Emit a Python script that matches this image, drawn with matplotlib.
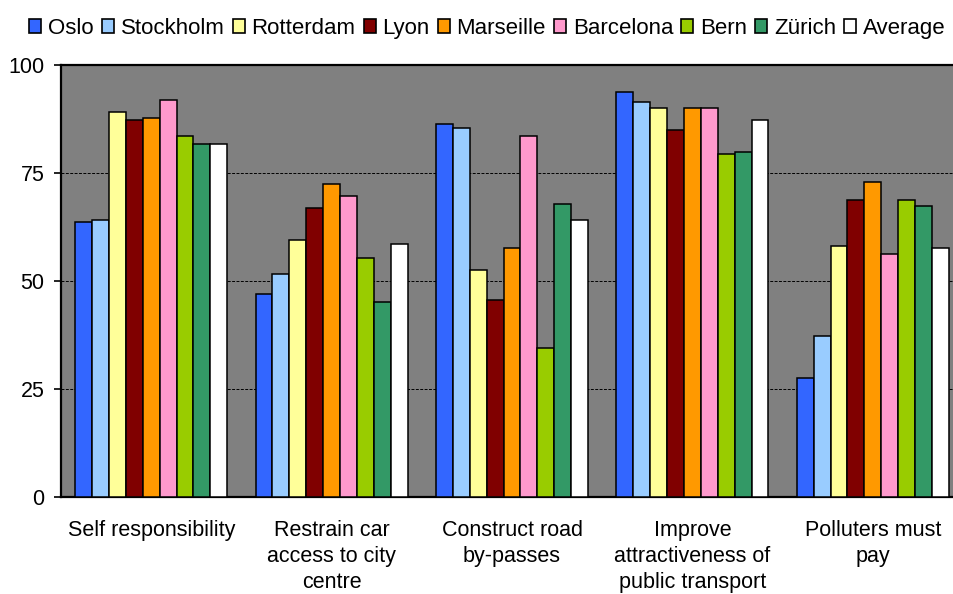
import matplotlib
matplotlib.use("Agg")
import matplotlib.pyplot as plt
import numpy as np
from matplotlib.patches import Patch

plt.rcParams['font.family'] = ['Liberation Sans', 'DejaVu Sans']

categories = ["Self responsibility", "Restrain car\naccess to city\ncentre",
              "Construct road\nby-passes", "Improve\nattractiveness of\npublic transport",
              "Polluters must\npay"]
cities = ["Oslo", "Stockholm", "Rotterdam", "Lyon", "Marseille", "Barcelona", "Bern", "Zürich", "Average"]
colors = ["#3366FF", "#99CCFF", "#FFFF99", "#800000", "#FF9900", "#FF99CC", "#99CC00", "#339966", "#FFFFFF"]

oslo      = [63.7, 47.1, 86.4, 93.8, 27.6]
stockholm = [64.2, 51.7, 85.5, 91.5, 37.3]
rotterdam = [89.2, 59.6, 52.6, 90.1, 58.2]
lyon      = [87.3, 67.0, 45.7, 85.0, 68.8]
marseille = [87.8, 72.5, 57.7, 90.1, 73.0]
barcelona = [92.0, 69.7, 83.6, 90.1, 56.3]
bern      = [83.6, 55.4, 34.6, 79.5, 68.8]
zurich    = [81.8, 45.2, 67.9, 79.9, 67.4]
average   = [81.8, 58.6, 64.2, 87.3, 57.7]
series = [oslo, stockholm, rotterdam, lyon, marseille, barcelona, bern, zurich, average]

yticks = [0, 25, 50, 75, 100]
FS = 15.5

fig = plt.figure(figsize=(9.54, 5.94), dpi=100)
ax = fig.add_axes([61/954, 97/594, 902/954, 432/594])
ax.set_facecolor("#808080")

n = len(series)
w = 1 / 10.67
x = np.arange(len(categories))
for i, (vals, c, name) in enumerate(zip(series, colors, cities)):
    ax.bar(x + (i - (n - 1) / 2) * w, vals, width=w, color=c, edgecolor="black",
           linewidth=1.1, zorder=3, label=name)

ax.set_xlim(-0.5, len(categories) - 0.5)
ax.set_ylim(0, 100)
ax.set_yticks(yticks)
ax.set_yticklabels([str(t) for t in yticks], fontsize=FS)
ax.yaxis.grid(True, color="black", linestyle=(0, (3, 1.5)), linewidth=0.7, zorder=1)
ax.set_xticks(x)
ax.set_xticklabels(categories, fontsize=FS, linespacing=1.3, va="top")
ax.tick_params(axis="x", length=0, pad=16.5)
ax.tick_params(axis="y", length=5, width=1.2, direction="out", pad=7)
for s in ["left", "top", "bottom", "right"]:
    ax.spines[s].set_linewidth(1.6)
    ax.spines[s].set_color("black")

handles = [Patch(facecolor=c, edgecolor="black", linewidth=1.2) for c in colors]
fig.legend(handles, cities, loc="upper center", bbox_to_anchor=(0.511, 1.0), ncol=9,
           frameon=False, fontsize=16, handlelength=0.54, handleheight=0.54,
           handletextpad=0.3, columnspacing=0.37, borderaxespad=0.4)

fig.savefig("out.png", dpi=100)
